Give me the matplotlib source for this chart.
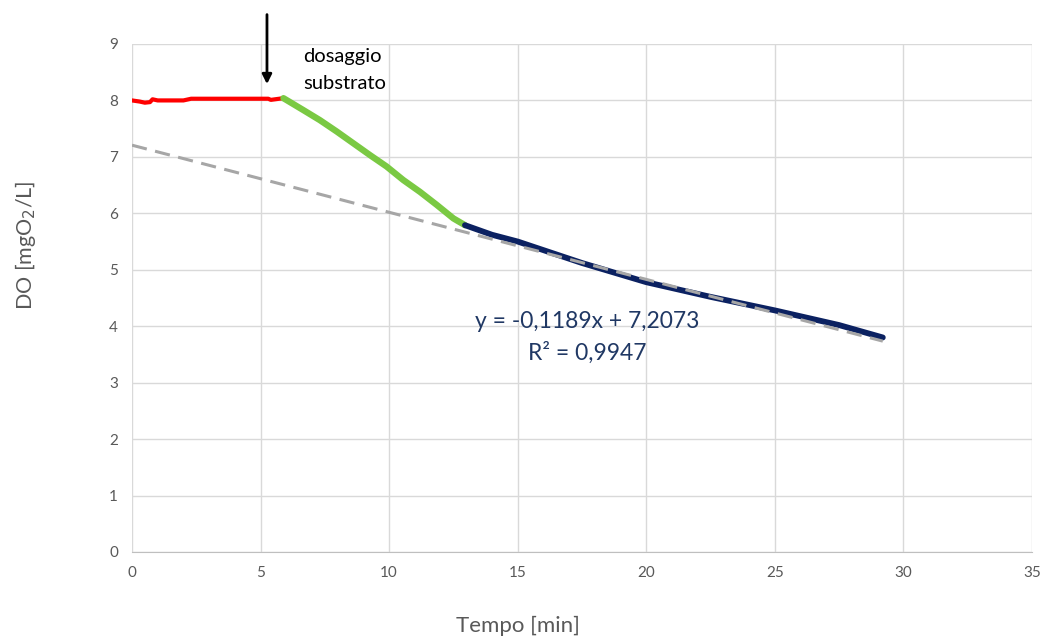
import matplotlib
matplotlib.use("Agg")
import matplotlib.pyplot as plt
import numpy as np

# Dissolved oxygen readings (min, mgO2/L)
t_before = [0.0, 0.3, 0.5, 0.7, 0.8, 1.0, 1.5, 2.0, 2.3, 3.0, 4.0, 5.0, 5.3, 5.4, 5.89]
do_before = [8.00, 7.98, 7.96, 7.97, 8.02, 8.00, 8.00, 8.00, 8.03, 8.03, 8.03, 8.03, 8.03, 8.01, 8.04]

t_transition = [5.89, 6.66, 7.31, 7.96, 8.61, 9.26, 9.90, 10.55, 11.2, 11.85, 12.5, 12.95]
do_transition = [8.04, 7.83, 7.65, 7.45, 7.24, 7.03, 6.83, 6.59, 6.38, 6.15, 5.91, 5.79]

t_linear = [12.95, 14.0, 15.0, 17.5, 20.0, 22.5, 25.0, 27.5, 29.2]
do_linear = [5.79, 5.62, 5.50, 5.12, 4.78, 4.52, 4.28, 4.02, 3.80]

slope = -0.1189
intercept = 7.2073
r2 = 0.9947

x_ticks = [0, 5, 10, 15, 20, 25, 30, 35]
y_ticks = [0, 1, 2, 3, 4, 5, 6, 7, 8, 9]

plt.rcParams["font.family"] = ["Lato", "DejaVu Sans"]

fig = plt.figure(figsize=(10.5, 6.44), dpi=100)
ax = fig.add_axes([0.1257, 0.1429, 0.8571, 0.7888])

ax.set_xlim(0, 35)
ax.set_ylim(0, 9)
ax.set_xticks(x_ticks)
ax.set_yticks(y_ticks)
ax.grid(True, color="#d9d9d9", linewidth=1)
ax.set_axisbelow(True)
for s in ["top", "right", "left"]:
    ax.spines[s].set_visible(False)
ax.spines["bottom"].set_color("#bfbfbf")
ax.tick_params(length=0, labelsize=11, colors="#595959", pad=10)

ax.plot(t_before, do_before, color="#ff0000", lw=3.0, solid_capstyle="round", zorder=3)
ax.plot(t_transition, do_transition, color="#7ac943", lw=4.6, solid_capstyle="round", zorder=3)
ax.plot(t_linear, do_linear, color="#0b2161", lw=4.2, solid_capstyle="round", zorder=3)

# Linear fit over the full time span, drawn over the data
t_fit = np.array([0.0, t_linear[-1]])
ax.plot(t_fit, slope * t_fit + intercept, color="#a6a6a6", lw=2.2,
        dashes=(5, 2.8), zorder=5)

# Substrate dosing marker
ax.annotate("", xy=(5.25, 8.24), xytext=(5.25, 9.57),
            arrowprops=dict(arrowstyle="-|>", color="black", lw=2, mutation_scale=14),
            annotation_clip=False)
ax.text(6.65, 8.68, "dosaggio", fontsize=14.5, color="#000000",
        va="baseline", ha="left")
ax.text(6.65, 8.20, "substrato", fontsize=14.5, color="#000000",
        va="baseline", ha="left")

ax.text(17.7, 3.97, f"y = {slope:.4f}x + {intercept:.4f}".replace(".", ","),
        fontsize=16.5, color="#203864", ha="center", va="baseline")
ax.text(17.7, 3.40, f"R² = {r2:.4f}".replace(".", ","),
        fontsize=16.5, color="#203864", ha="center", va="baseline")

ax.set_xlabel("Tempo [min]", fontsize=16, color="#595959")
ax.xaxis.set_label_coords((518 - 132) / 900, -0.126)
ax.set_ylabel("DO [mgO$_2$/L]", fontsize=15.5, color="#595959")
ax.yaxis.set_label_coords((38 - 132) / 900, (552 - 245) / 508)

fig.savefig("out.png", dpi=100, facecolor="white")
